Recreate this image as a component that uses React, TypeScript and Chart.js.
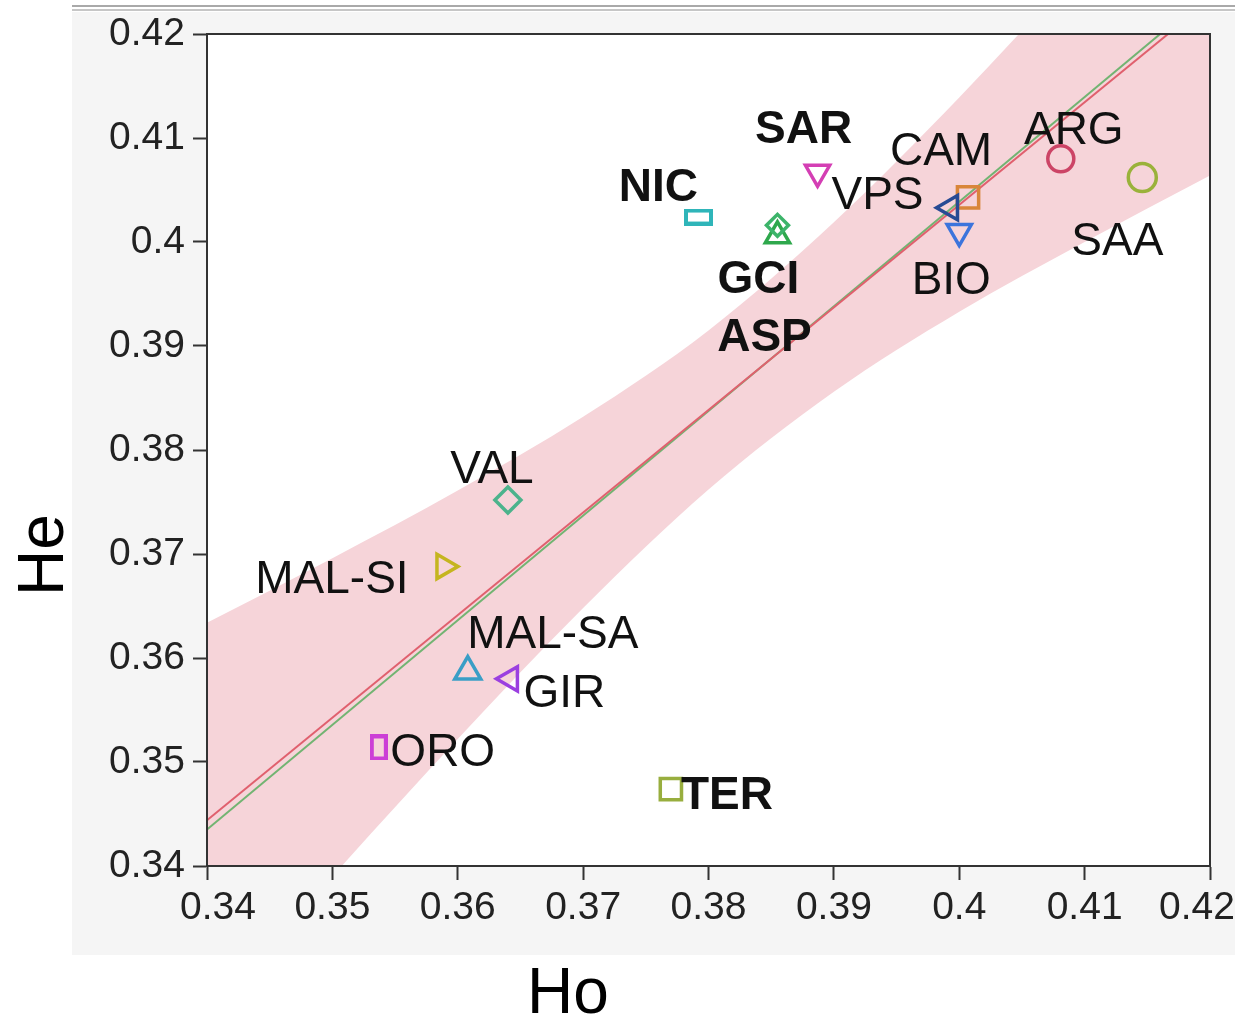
import React, { useEffect, useRef } from 'react';
import { Chart, registerables } from 'chart.js';
Chart.register(...registerables);

// ---- data ----
const populations = ['NIC', 'SAR', 'GCI', 'ASP', 'CAM', 'VPS', 'BIO', 'ARG', 'SAA', 'VAL', 'MAL-SI', 'MAL-SA', 'GIR', 'ORO', 'TER'];
const hoValues = [0.3792, 0.3887, 0.3855, 0.3855, 0.4007, 0.3993, 0.4000, 0.4081, 0.4146, 0.3640, 0.3589, 0.3608, 0.3642, 0.3537, 0.3770];
const heValues = [0.4024, 0.4067, 0.4006, 0.4016, 0.4043, 0.4033, 0.4010, 0.4080, 0.4062, 0.3752, 0.3688, 0.3587, 0.3580, 0.3514, 0.3474];
const boldLabels = ['SAR', 'NIC', 'GCI', 'ASP', 'TER'];

const bandHo = [0.34, 0.35, 0.36, 0.37, 0.38, 0.39, 0.40, 0.41, 0.42];
const bandUpper = [0.3634, 0.3696, 0.3761, 0.3832, 0.3915, 0.4019, 0.4139, 0.4269, 0.4403];
const bandLower = [0.3255, 0.3390, 0.3522, 0.3648, 0.3762, 0.3856, 0.3933, 0.4000, 0.4064];

const fitHo = [0.34, 0.42];
const fitRed = [0.3444, 0.4233];
const fitGreen = [0.3435, 0.4240];

const axisMin = 0.34;
const axisMax = 0.42;
const axisStep = 0.01;

// ---- styles ----
const markerShapes = ['wideRect', 'triangle', 'triangle', 'rectRot', 'rect', 'triangle', 'triangle', 'circle', 'circle', 'rectRot', 'triangle', 'triangle', 'triangle', 'tallRect', 'rect'];
const markerRotations = [0, 180, 0, 0, 0, 270, 180, 0, 0, 0, 90, 0, 270, 0, 0];
const markerRadii = [14, 14, 14, 11, 15, 14, 14, 13, 14, 13, 14, 15, 14, 14, 15];
const markerColors = ['#2fb5b9', '#d43fb4', '#2ea84c', '#3cb46a', '#d9863a', '#274b94', '#3c74dc', '#cc4466', '#9ab23a', '#4cb38c', '#c5b51f', '#3a9ec6', '#9b3fe0', '#cc3fd6', '#98ae3e'];
const labelOffsets: [number, number][] = [
  [-40, -33], [-14, -46], [-19, 41], [-13, 109], [-27, -49], [-73, -15], [-8, 46], [13, -31],
  [-25, 61], [-16, -33], [-112, 10], [85, -40], [54, 12], [64, 2], [56, 3],
];

const FONT = '"Liberation Sans", Arial, Helvetica, sans-serif';
const fmt = (v: number) => String(Math.round(v * 100) / 100);

function rectSprite(w: number, h: number, color: string) {
  const c = document.createElement('canvas');
  c.width = w;
  c.height = h;
  const g = c.getContext('2d')!;
  g.strokeStyle = color;
  g.lineWidth = 4;
  g.strokeRect(2, 2, w - 4, h - 4);
  return c;
}

export default function App() {
  const ref = useRef<HTMLCanvasElement | null>(null);

  useEffect(() => {
    const canvas = ref.current!;
    const styles = markerShapes.map((s, i) => {
      if (s === 'wideRect') return rectSprite(29, 17, markerColors[i]);
      if (s === 'tallRect') return rectSprite(18, 26, markerColors[i]);
      return s;
    });

    const decor = {
      id: 'decor',
      beforeDraw(chart: any) {
        const { ctx, chartArea: a } = chart;
        ctx.save();
        ctx.fillStyle = '#ffffff';
        ctx.fillRect(a.left, a.top, a.right - a.left, a.bottom - a.top);
        ctx.restore();
      },
      afterDatasetsDraw(chart: any) {
        const { ctx, chartArea: a, scales } = chart;
        const xs = scales.x, ys = scales.y;
        ctx.save();
        // labels
        ctx.fillStyle = '#111';
        ctx.textAlign = 'center';
        ctx.textBaseline = 'alphabetic';
        populations.forEach((name, i) => {
          const px = xs.getPixelForValue(hoValues[i]);
          const py = ys.getPixelForValue(heValues[i]);
          const size = 46;
          ctx.font = `${boldLabels.includes(name) ? 'bold ' : ''}${size}px ${FONT}`;
          ctx.fillText(name, px + labelOffsets[i][0], py + labelOffsets[i][1] + 0.358 * size);
        });
        // frame
        ctx.strokeStyle = '#333';
        ctx.lineWidth = 2;
        ctx.strokeRect(a.left, a.top, a.right - a.left, a.bottom - a.top);
        // x tick labels
        ctx.font = `39px ${FONT}`;
        ctx.fillStyle = '#222';
        ctx.textAlign = 'left';
        xs.ticks.forEach((t: any) => {
          const txt = fmt(t.value);
          const w = ctx.measureText(txt).width;
          let left = xs.getPixelForValue(t.value) - w / 2;
          if (left < 180) left = 180;
          if (left + w > 1235) left = 1235 - w;
          ctx.fillText(txt, left, 919);
        });
        // axis titles
        ctx.fillStyle = '#000';
        ctx.font = `64px ${FONT}`;
        ctx.textAlign = 'center';
        ctx.fillText('Ho', 568, 1013);
        ctx.translate(40, 555);
        ctx.rotate(-Math.PI / 2);
        ctx.fillText('He', 0, 23);
        ctx.restore();
      },
    };

    const chart = new Chart(canvas, {
      type: 'line',
      data: {
        datasets: [
          {
            label: 'Populations',
            data: populations.map((_, i) => ({ x: hoValues[i], y: heValues[i] })),
            showLine: false,
            pointStyle: styles as any,
            pointRotation: markerRotations,
            pointRadius: markerRadii,
            pointBorderWidth: 3.5,
            pointBorderColor: markerColors,
            pointBackgroundColor: 'rgba(0,0,0,0)',
          } as any,
          {
            label: 'Fit',
            data: fitHo.map((x, i) => ({ x, y: fitRed[i] })),
            borderColor: '#e0606e',
            borderWidth: 2,
            pointRadius: 0,
            fill: false,
          },
          {
            label: 'Fit 2',
            data: fitHo.map((x, i) => ({ x, y: fitGreen[i] })),
            borderColor: '#72b472',
            borderWidth: 2,
            pointRadius: 0,
            fill: false,
          },
          {
            label: 'Upper',
            data: bandHo.map((x, i) => ({ x, y: bandUpper[i] })),
            borderWidth: 0,
            borderColor: 'rgba(0,0,0,0)',
            pointRadius: 0,
            cubicInterpolationMode: 'monotone',
            fill: false,
          },
          {
            label: 'Lower',
            data: bandHo.map((x, i) => ({ x, y: bandLower[i] })),
            borderWidth: 0,
            borderColor: 'rgba(0,0,0,0)',
            backgroundColor: '#f6d4d9',
            pointRadius: 0,
            cubicInterpolationMode: 'monotone',
            fill: '-1',
          },
        ],
      },
      options: {
        responsive: false,
        animation: false,
        events: [],
        devicePixelRatio: 1,
        layout: { padding: { left: 0, right: 25, top: 34, bottom: 0 } },
        plugins: { legend: { display: false }, tooltip: { enabled: false } },
        scales: {
          x: {
            type: 'linear',
            min: axisMin,
            max: axisMax,
            ticks: { stepSize: axisStep, display: false },
            grid: { drawOnChartArea: false, drawTicks: true, tickLength: 14, tickColor: '#333', tickWidth: 2, color: '#333' },
            border: { display: true, color: '#333', width: 2 },
            afterFit(scale: any) {
              scale.height = 151;
              scale.paddingLeft = 0;
              scale.paddingRight = 0;
            },
          },
          y: {
            type: 'linear',
            min: axisMin,
            max: axisMax,
            ticks: {
              stepSize: axisStep,
              padding: 8,
              color: '#222',
              font: { family: FONT, size: 39 },
              callback: (v: any) => fmt(Number(v)),
            },
            grid: { drawOnChartArea: false, drawTicks: true, tickLength: 14, tickColor: '#333', tickWidth: 2, color: '#333' },
            border: { display: true, color: '#333', width: 2 },
            afterFit(scale: any) {
              scale.width = 207;
              scale.paddingTop = 0;
              scale.paddingBottom = 0;
            },
          },
        },
      },
      plugins: [decor],
    } as any);
    return () => chart.destroy();
  }, []);

  return (
    <div style={{ position: 'absolute', left: 0, top: 0, width: 1235, height: 1017, background: '#fff', overflow: 'hidden' }}>
      <div style={{ position: 'absolute', left: 72, top: 12, width: 1163, height: 943, background: '#f5f5f5' }} />
      <div style={{ position: 'absolute', left: 72, top: 5, width: 1163, height: 2, background: '#a9a9a9' }} />
      <div style={{ position: 'absolute', left: 72, top: 9, width: 1163, height: 2, background: '#c6c6c6' }} />
      <canvas ref={ref} width={1235} height={1017} style={{ position: 'absolute', left: 0, top: 0 }} />
    </div>
  );
}
